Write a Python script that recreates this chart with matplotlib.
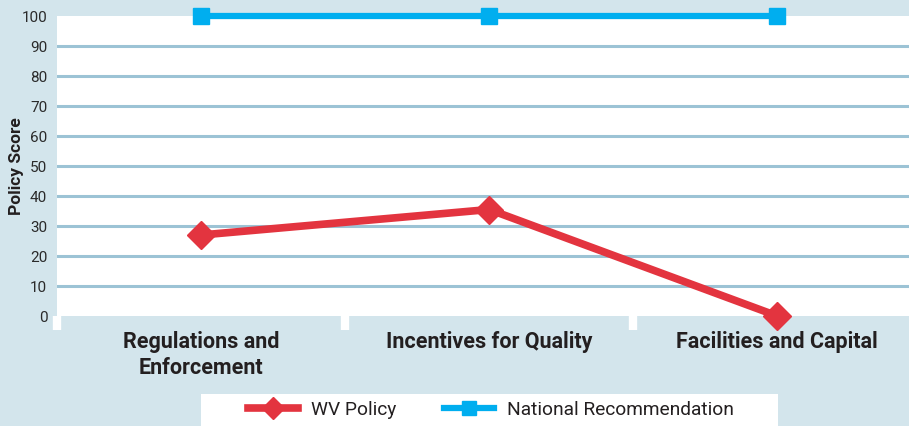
import matplotlib.pyplot as plt
import numpy as np
from matplotlib.patches import Rectangle

plt.rcParams['font.family'] = ['Roboto', 'DejaVu Sans']

categories = ['Regulations and\nEnforcement', 'Incentives for Quality', 'Facilities and Capital']
wv_policy = [27, 35.5, 0]
national = [100, 100, 100]
yticks = [0, 10, 20, 30, 40, 50, 60, 70, 80, 90, 100]

bg = '#d3e5ec'
grid_c = '#9cc3d5'
red = '#e3343f'
blue = '#00aeef'

fig = plt.figure(figsize=(9.09, 4.26), dpi=100, facecolor=bg)
ax = fig.add_axes([57 / 909, 1 - 316 / 426, 1 - 57 / 909, 300 / 426])
ax.set_facecolor('white')

x = np.arange(len(categories))

# gridlines (not at 0/100)
for v in yticks[1:-1]:
    ax.axhline(v, color=grid_c, lw=2.2, zorder=1)

ax.plot(x, wv_policy, color=red, lw=5.5, marker='D', ms=14, zorder=3,
        clip_on=False, label='WV Policy')
ax.plot(x, national, color=blue, lw=4.5, marker='s', ms=12, zorder=3,
        clip_on=False, label='National Recommendation')

ax.set_xlim(-0.5, 2.457)
ax.set_ylim(0, 100)
ax.set_yticks(yticks)
ax.tick_params(axis='y', length=0, pad=7, labelsize=11, labelcolor='#2a2a2a')

ax.set_xticks(x)
ax.set_xticklabels(categories, fontsize=15.5, fontweight='bold', color='#231f20',
                   linespacing=1.22)
ax.set_xticks([-0.5, 0.5, 1.5], minor=True)
ax.tick_params(axis='x', which='major', length=0, pad=11)
ax.tick_params(axis='x', which='minor', length=10, width=6, color='white',
               direction='out')

for s in ax.spines.values():
    s.set_visible(False)

fig.text(17 / 909, 1 - 166 / 426, 'Policy Score', rotation=90, ha='center',
         va='center', fontsize=12.5, fontweight='bold', color='#231f20')

# white legend box
fig.patches.append(Rectangle((201 / 909, 0), 577 / 909, 32 / 426,
                             transform=fig.transFigure, facecolor='white',
                             edgecolor='none', zorder=0))
leg = fig.legend(loc='center', bbox_to_anchor=(491 / 909, 1 - 410 / 426), ncol=2,
                 frameon=False, fontsize=13.8, handlelength=2.6,
                 columnspacing=2.5, handletextpad=0.7, markerscale=0.8)
for t in leg.get_texts():
    t.set_color('#231f20')

fig.savefig('out.png', dpi=100, facecolor=bg)
